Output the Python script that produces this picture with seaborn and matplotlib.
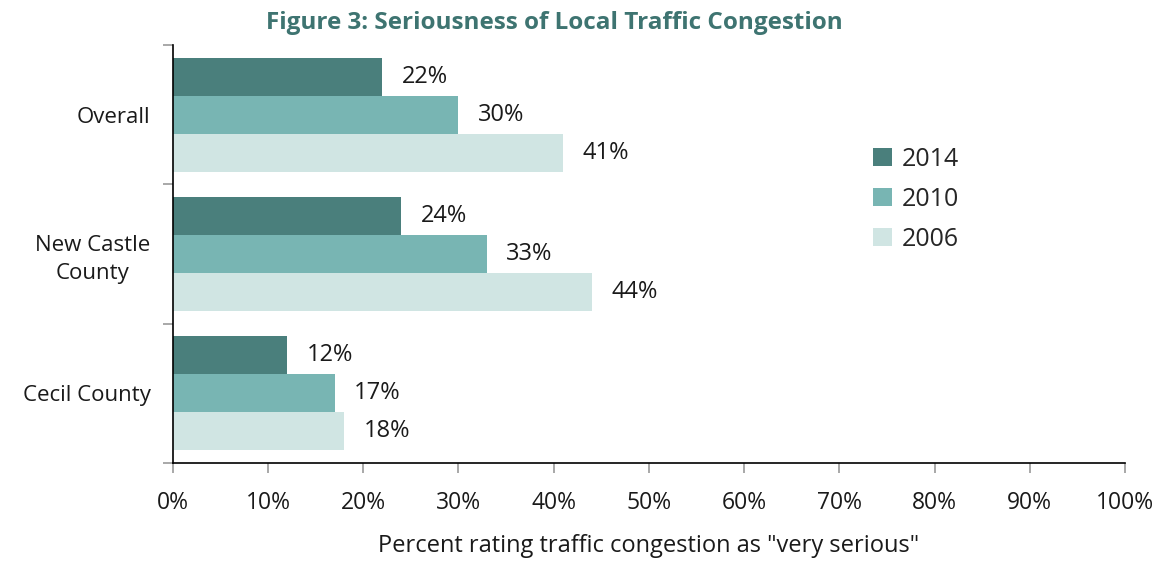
import pandas as pd
import numpy as np
import seaborn as sns
import matplotlib.pyplot as plt

# values
regions = ['Overall', 'New Castle\nCounty', 'Cecil County']
years = ['2014', '2010', '2006']
pct_2014 = [22, 24, 12]
pct_2010 = [30, 33, 17]
pct_2006 = [41, 44, 18]
colors = ['#4A7F7C', '#78B5B3', '#D0E5E3']

df = pd.DataFrame({
    'region': regions * 3,
    'year': [y for y in years for _ in regions],
    'pct': pct_2014 + pct_2010 + pct_2006,
})

sns.set_style('white')
plt.rcParams['font.family'] = ['Open Sans', 'DejaVu Sans']

fig = plt.figure(figsize=(11.67, 5.65), dpi=100)
ax = fig.add_axes([0.148, 0.181, 0.816, 0.739])

sns.barplot(data=df, y='region', x='pct', hue='year', hue_order=years,
            order=regions, palette=colors, width=0.82, orient='h',
            saturation=1, linewidth=0, ax=ax)

# value labels
for cont in ax.containers:
    ax.bar_label(cont, labels=[f'{int(v)}%' for v in cont.datavalues],
                 padding=14, fontsize=17, color='#1a1a1a')

ax.set_xlim(0, 100)
ax.set_ylim(2.5, -0.5)
ax.set_xticks(np.arange(0, 101, 10))
ax.set_xticklabels([f'{v}%' for v in range(0, 101, 10)], fontsize=16.5, color='#1a1a1a')
ax.set_yticks(range(len(regions)))
ax.set_yticklabels(regions, fontsize=16, color='#1a1a1a', ha='right',
                   multialignment='center', linespacing=1.4)
ax.tick_params(axis='y', length=0, pad=16)
ax.set_yticks([-0.5, 0.5, 1.5, 2.5], minor=True)
ax.tick_params(axis='y', which='minor', length=7, color='#999999', width=1.2, left=True)
ax.tick_params(axis='x', length=7, width=1.2, color='#999999', bottom=True, pad=13)

for s in ['top', 'right']:
    ax.spines[s].set_visible(False)
for s in ['left', 'bottom']:
    ax.spines[s].set_color('black')
    ax.spines[s].set_linewidth(1.2)

ax.set_ylabel('')
ax.set_xlabel('Percent rating traffic congestion as "very serious"',
              fontsize=17, color='#1a1a1a', labelpad=14)

ax.legend(loc='upper left', bbox_to_anchor=(0.712, 0.81), frameon=False,
          fontsize=18, handlelength=0.75, handleheight=0.75,
          handletextpad=0.4, labelspacing=0.6)

fig.text(0.475, 0.96, 'Figure 3: Seriousness of Local Traffic Congestion',
         ha='center', va='center', fontsize=17.5, fontweight='bold', color='#3E7471')

fig.savefig('out.png', dpi=100)
